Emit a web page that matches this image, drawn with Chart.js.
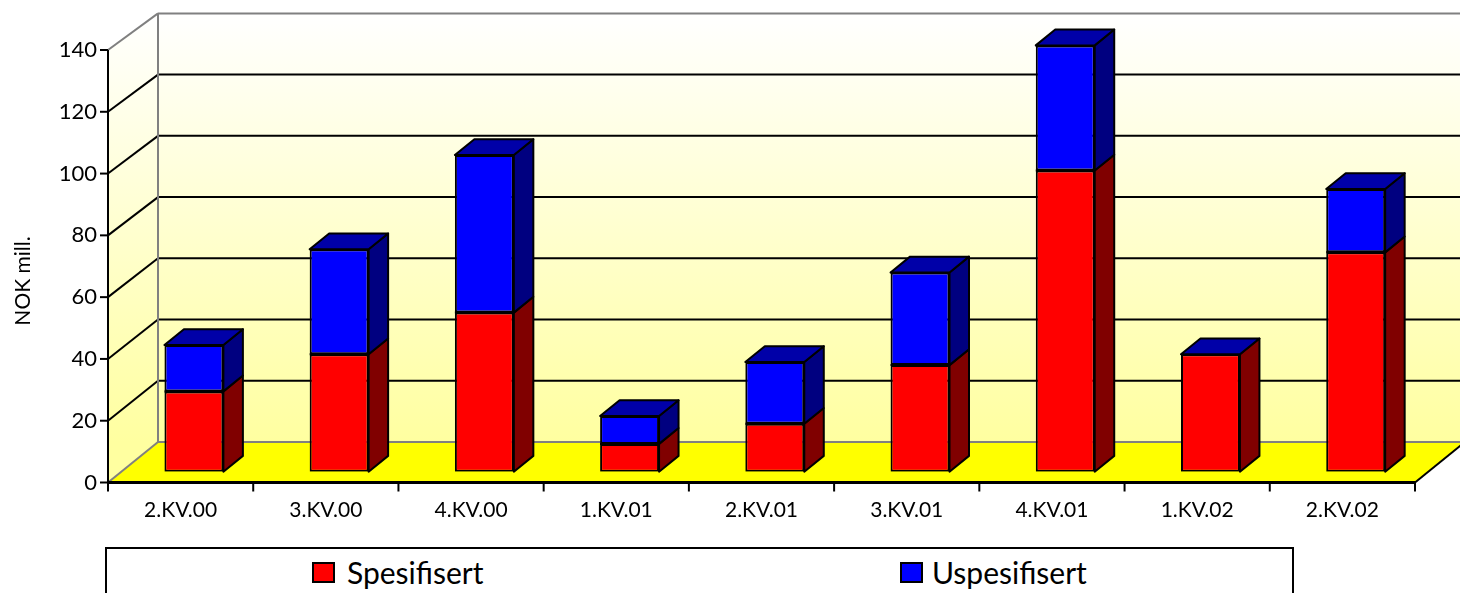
<!DOCTYPE html>
<html>
<head>
<meta charset="utf-8">
<title>NOK mill. per kvartal</title>
<script src="https://cdn.jsdelivr.net/npm/chart.js@4.4.1/dist/chart.umd.min.js"></script>
<style>
  body { margin: 0; background: #fff; font-family: Lato, "Open Sans", sans-serif; }
  #ramme { position: relative; width: 1460px; height: 593px; overflow: hidden; }
  #legende { position: absolute; left: 105px; top: 547px; width: 1185px; height: 80px;
             border: 2px solid #000; background: #fff; }
  .rute { position: absolute; top: 13px; width: 19px; height: 17px; border: 2px solid #000; }
  .tekst { position: absolute; top: 8px; font-size: 30px; line-height: 30px; color: #000; white-space: nowrap; }
</style>
</head>
<body>
<div id="ramme">
  <canvas id="graf" width="1460" height="593"></canvas>
  <div id="legende">
    <div class="rute" style="left:205px;background:#ff0000"></div>
    <div class="tekst" style="left:240px">Spesifisert</div>
    <div class="rute" style="left:793px;background:#0000ff"></div>
    <div class="tekst" style="left:825px">Uspesifisert</div>
  </div>
</div>
<script>
// Verdier lest av figuren (NOK mill.)
const kvartaler = ['2.KV.00', '3.KV.00', '4.KV.00', '1.KV.01', '2.KV.01', '3.KV.01', '4.KV.01', '1.KV.02', '2.KV.02'];
const spesifisert = [26, 38, 51.5, 9, 15.5, 34.5, 97.5, 38, 71];
const uspesifisert = [15, 34, 51, 9, 20, 30, 40.5, 0, 20.5];
const yTicks = [0, 20, 40, 60, 80, 100, 120, 140];

// 3D-oppsett: søylene står i et plan litt inn i "boksen"
const FRAM = { x: -13.3, y: 10.8 };   // fra søyleplanet til forkanten
const BAK = { x: 36.7, y: -29.7 };    // fra søyleplanet til bakveggen
const BAK_SKALA = 0.991;
const SIDE = { x: 19.5, y: 15.8 };    // søylenes dybde

const sideFarger = ['#800000', '#000080'];
const toppFarge = '#0000a8';

function linje(ctx, x1, y1, x2, y2, farge, bredde) {
  ctx.beginPath();
  ctx.moveTo(x1, y1);
  ctx.lineTo(x2, y2);
  ctx.strokeStyle = farge;
  ctx.lineWidth = bredde;
  ctx.stroke();
}

function flate(ctx, punkter, fyll, strek) {
  ctx.beginPath();
  punkter.forEach((p, i) => i ? ctx.lineTo(p[0], p[1]) : ctx.moveTo(p[0], p[1]));
  ctx.closePath();
  ctx.fillStyle = fyll;
  ctx.fill();
  if (strek) {
    ctx.strokeStyle = strek;
    ctx.lineWidth = 2;
    ctx.lineJoin = 'round';
    ctx.stroke();
  }
}

const kube3d = {
  id: 'kube3d',
  beforeDraw(chart) {
    const { ctx, chartArea: a, scales: { x, y } } = chart;
    const y0 = y.getPixelForValue(0);
    const maks = yTicks[yTicks.length - 1];
    const F = v => y.getPixelForValue(v) + FRAM.y;
    const B = v => y0 + BAK.y + (y.getPixelForValue(v) - y0) * BAK_SKALA;
    const fl = a.left + FRAM.x, fr = a.right + FRAM.x;
    const bl = a.left + BAK.x, br = a.right + BAK.x;

    ctx.save();
    const grad = ctx.createLinearGradient(0, B(maks), 0, B(0));
    grad.addColorStop(0, '#ffffff');
    grad.addColorStop(1, '#ffffa0');
    // bakvegg og venstre vegg
    flate(ctx, [[bl, B(maks)], [br, B(maks)], [br, B(0)], [bl, B(0)]], grad);
    flate(ctx, [[fl, F(0)], [fl, F(maks)], [bl, B(maks)], [bl, B(0)]], grad);
    // gulv
    flate(ctx, [[fl, F(0)], [fr, F(0)], [br, B(0)], [bl, B(0)]], '#ffff00');

    // rutenett
    yTicks.slice(1, -1).forEach(v => {
      linje(ctx, bl, B(v), br, B(v), '#000', 2);
      linje(ctx, fl, F(v), bl, B(v), '#000', 2);
    });
    // grå kanter
    linje(ctx, bl, B(0), bl, B(maks), '#808080', 2);
    linje(ctx, bl, B(maks), br, B(maks), '#808080', 2);
    linje(ctx, fl, F(maks), bl, B(maks), '#808080', 2);
    linje(ctx, bl, B(0), br, B(0), '#808080', 2);
    linje(ctx, fl, F(0), bl, B(0), '#808080', 2);

    // akser foran
    linje(ctx, fl, F(0) + 1, fl, F(maks), '#000', 2);
    yTicks.forEach(v => linje(ctx, fl - 8, F(v), fl, F(v), '#000', 2));
    linje(ctx, fr, F(0), br, B(0), '#000', 2);
    linje(ctx, fl - 1, F(0), fr + 1, F(0), '#000', 3);
    const bredde = (a.right - a.left) / kvartaler.length;
    for (let i = 0; i <= kvartaler.length; i++) {
      const px = fl + i * bredde;
      linje(ctx, px, F(0), px, F(0) + 9, '#000', 2);
    }
    ctx.restore();
  },
  afterDatasetsDraw(chart) {
    const { ctx } = chart;
    const siste = chart.data.datasets.length - 1;
    ctx.save();
    chart.data.datasets.forEach((ds, d) => {
      const meta = chart.getDatasetMeta(d);
      meta.data.forEach(bar => {
        const { x, y, base, width } = bar.getProps(['x', 'y', 'base', 'width'], true);
        const v = x - width / 2, h = x + width / 2;
        const topp = Math.min(y, base), bunn = Math.max(y, base);
        if (bunn - topp > 0.5) {
          flate(ctx, [[h, topp], [h + SIDE.x, topp - SIDE.y], [h + SIDE.x, bunn - SIDE.y], [h, bunn]],
            sideFarger[d], '#000');
          // tydelig kant i skjøten mellom segmentene
          linje(ctx, v, topp, h, topp, '#000', 2);
        }
        if (d === siste) {
          flate(ctx, [[v, topp], [v + SIDE.x, topp - SIDE.y], [h + SIDE.x, topp - SIDE.y], [h, topp]],
            toppFarge, '#000');
        }
      });
    });
    ctx.restore();
  },
  afterDraw(chart) {
    const { ctx } = chart;
    ctx.save();
    ctx.translate(23, 281);
    ctx.rotate(-Math.PI / 2);
    ctx.font = '21px Lato';
    ctx.fillStyle = '#000';
    ctx.textAlign = 'center';
    ctx.textBaseline = 'middle';
    ctx.fillText('NOK mill.', 0, 0);
    ctx.restore();
  }
};

const ctx = document.getElementById('graf').getContext('2d');
new Chart(ctx, {
  type: 'bar',
  data: {
    labels: kvartaler,
    datasets: [
      { label: 'Spesifisert', data: spesifisert, backgroundColor: '#ff0000' },
      { label: 'Uspesifisert', data: uspesifisert, backgroundColor: '#0000ff' }
    ]
  },
  options: {
    responsive: false,
    animation: false,
    layout: { padding: { top: 39.2, right: 31.7, left: 0, bottom: 0 } },
    datasets: {
      bar: {
        borderColor: '#000',
        borderWidth: 2,
        borderSkipped: false,
        barPercentage: 0.406,
        categoryPercentage: 1
      }
    },
    plugins: {
      legend: { display: false },
      tooltip: { enabled: false }
    },
    scales: {
      x: {
        stacked: true,
        grid: { display: false, drawTicks: false },
        border: { display: false },
        afterFit: s => { s.height = 121.3; },
        ticks: { color: '#000', font: { family: 'Lato', size: 21 }, padding: 26, labelOffset: -13.3, maxRotation: 0 }
      },
      y: {
        stacked: true,
        min: 0,
        max: yTicks[yTicks.length - 1],
        grid: { display: false, drawTicks: false },
        border: { display: false },
        afterFit: s => { s.width = 121.3; },
        ticks: { stepSize: 20, color: '#000', font: { family: 'Lato', size: 22 }, padding: 24.3, labelOffset: 10.8 }
      }
    }
  },
  plugins: [kube3d]
});
</script>
</body>
</html>
